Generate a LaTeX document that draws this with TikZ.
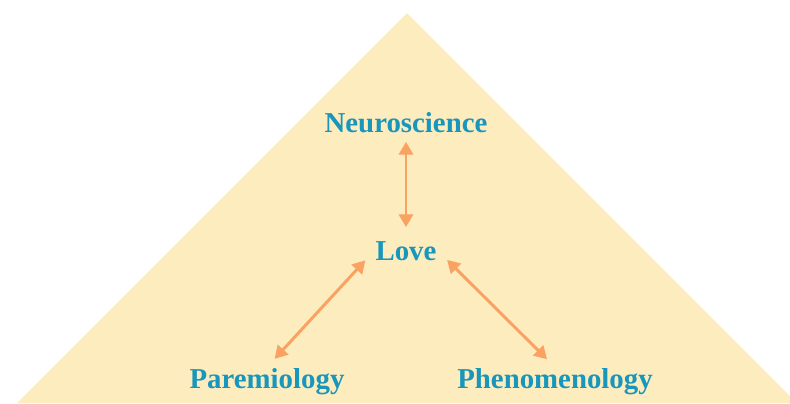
\documentclass[tikz,border=0pt]{standalone}
\usepackage{fontspec}
\setmainfont{Liberation Serif}
\usetikzlibrary{arrows.meta,positioning}
\definecolor{sand}{RGB}{252,236,190}
\definecolor{teal}{RGB}{24,150,188}
\definecolor{peach}{RGB}{250,162,98}

\begin{document}
\begin{tikzpicture}[x=0.025cm,y=-0.025cm,
  word/.style={text=teal,font=\fontsize{20.5}{24}\selectfont\bfseries,inner sep=1pt},
  link/.style={peach,line width=2.1pt,{Triangle[length=9pt,width=10pt]}-{Triangle[length=9pt,width=10pt]}}]
\useasboundingbox (0,0) rectangle (790,403);
% background triangle
\fill [sand] (407,13) -- (797,403) -- (17,403) -- cycle;
% words
\node [word] (neuro) at (406,123) {Neuroscience};
\node [word] (love) at (406,251) {Love};
\node [word] (paremio) at (267,382) {Paremiology};
\node [word] (phenom) at (555,382) {Phenomenology};
% links
\draw [link,shorten <=5pt,shorten >=9pt] (neuro) -- (love);
\draw [link,shorten <=9pt,shorten >=8pt] (love.west) -- (paremio.north);
\draw [link,shorten <=9pt,shorten >=8pt] (love.east) -- (phenom.north);
\end{tikzpicture}
\end{document}
